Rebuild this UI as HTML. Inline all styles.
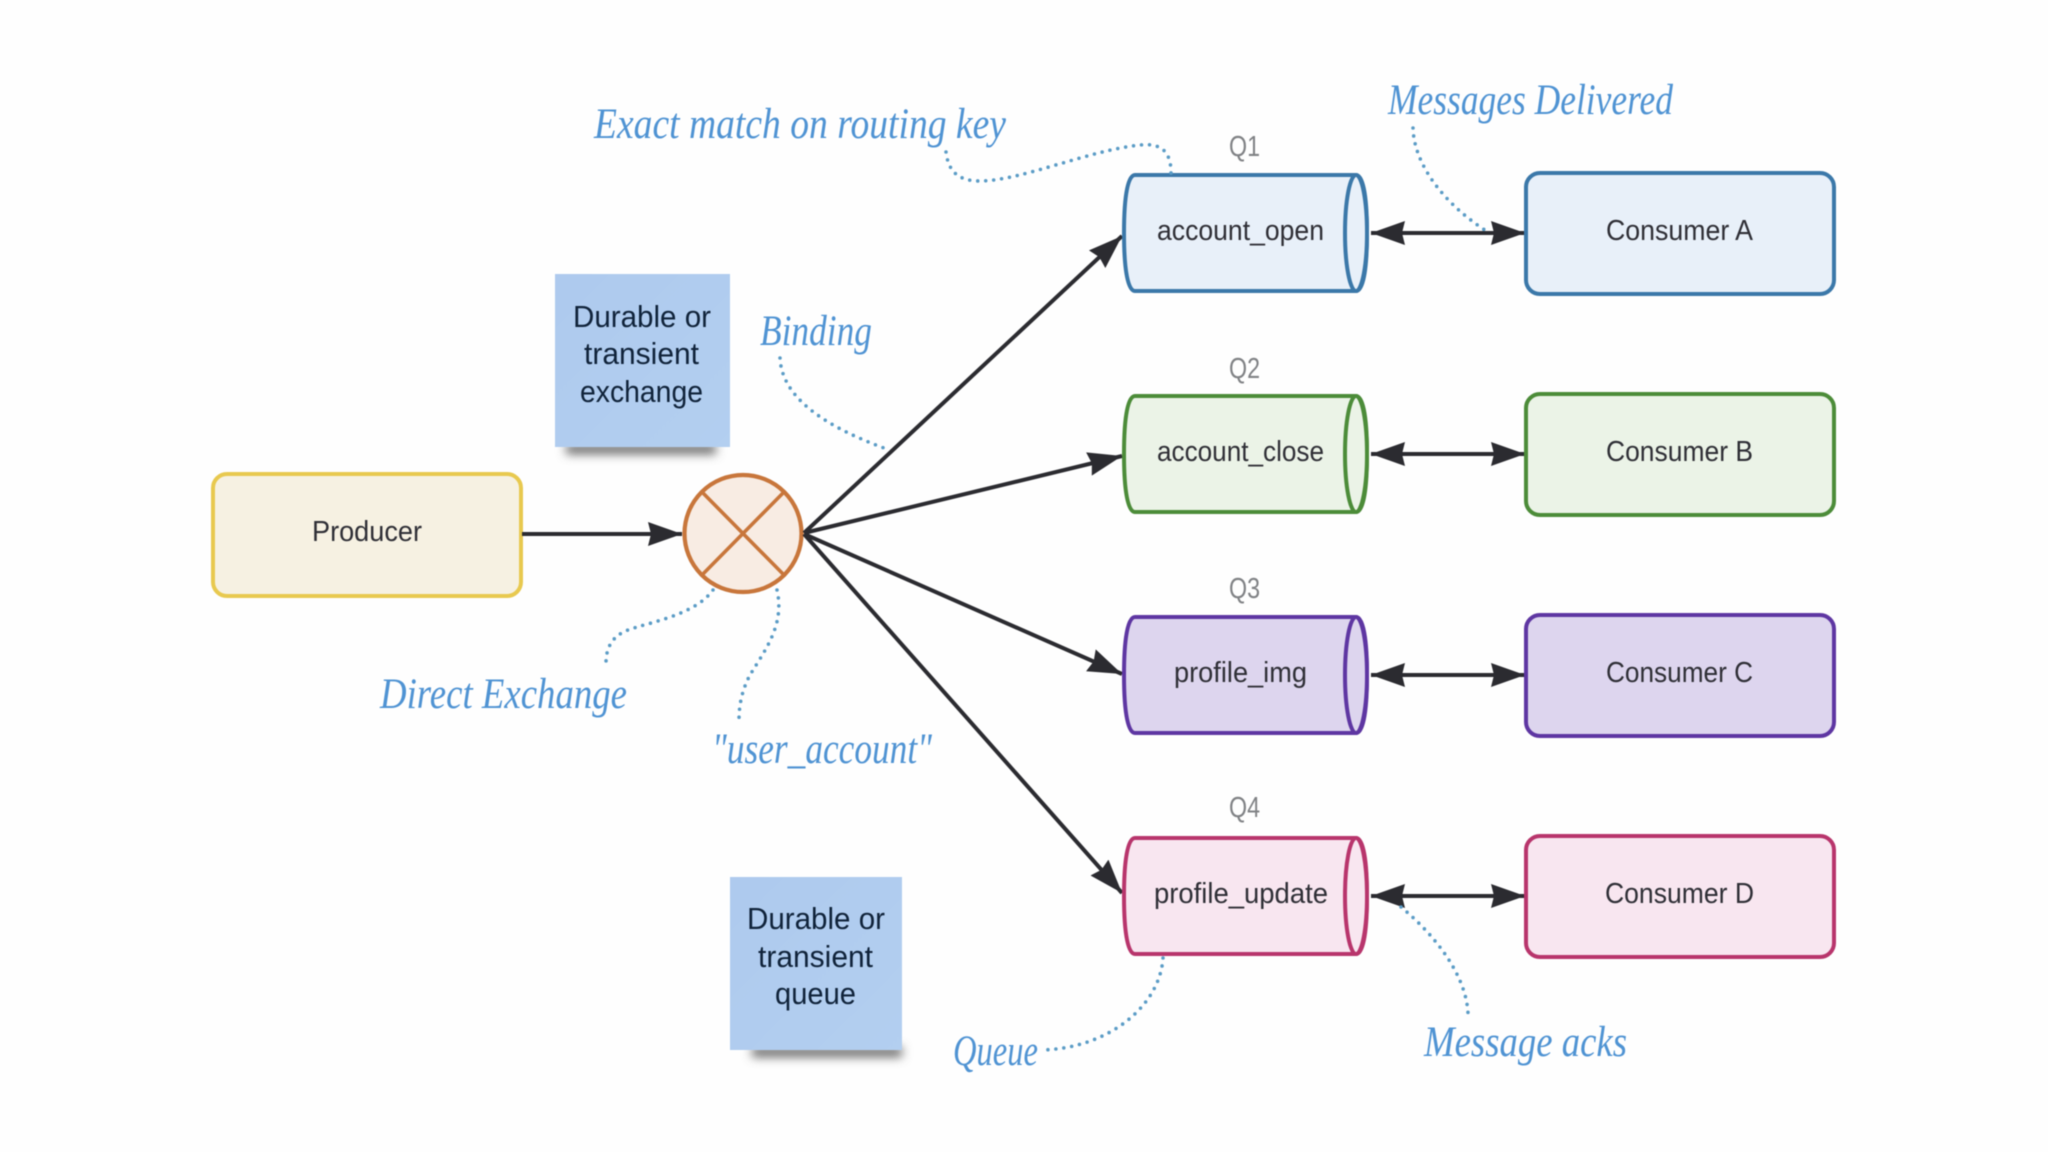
<!DOCTYPE html>
<html><head><meta charset="utf-8">
<style>
html,body{margin:0;padding:0;background:#fff;width:2048px;height:1152px;overflow:hidden}
svg{display:block;filter:blur(0.6px)}
.t{font-family:"Liberation Sans",sans-serif;font-size:29px;fill:#2f2f36}
.s{font-family:"Liberation Sans",sans-serif;font-size:31px;fill:#10233a}
.q{font-family:"Liberation Sans",sans-serif;font-size:29px;fill:#808285}
.h{font-family:"Liberation Serif",serif;font-style:italic;font-size:43px;fill:#4f93d3}
.d{fill:none;stroke:#5b9cc6;stroke-width:3.6;stroke-linecap:round;stroke-dasharray:0 8}
.a{stroke:#2b2b30;stroke-width:4;fill:none}
</style></head><body>
<svg width="2048" height="1152" viewBox="0 0 2048 1152" xmlns="http://www.w3.org/2000/svg">
<defs>
<marker id="ah" markerUnits="userSpaceOnUse" markerWidth="38" markerHeight="30" refX="34" refY="15" orient="auto-start-reverse">
<path d="M0 3L34 15L0 27L3 15Z" fill="#2b2b30"/></marker>
<filter id="b" x="-20%" y="-300%" width="140%" height="700%"><feGaussianBlur stdDeviation="5"/></filter>
<linearGradient id="st" x1="0" y1="0" x2="1" y2="1"><stop offset="0" stop-color="#aecaee"/><stop offset="1" stop-color="#b3cff0"/></linearGradient>
</defs>
<rect width="2048" height="1152" fill="#fefefe"/>

<!-- sticky notes -->
<rect x="566" y="444" width="150" height="10" fill="#666" filter="url(#b)"/>
<rect x="555" y="274" width="175" height="173" fill="url(#st)"/>
<text class="s" x="573" y="327" textLength="138" lengthAdjust="spacingAndGlyphs">Durable or</text>
<text class="s" x="584" y="364" textLength="115" lengthAdjust="spacingAndGlyphs">transient</text>
<text class="s" x="580" y="402" textLength="123" lengthAdjust="spacingAndGlyphs">exchange</text>
<rect x="752" y="1047" width="150" height="10" fill="#666" filter="url(#b)"/>
<rect x="730" y="877" width="172" height="173" fill="url(#st)"/>
<text class="s" x="747" y="929" textLength="138" lengthAdjust="spacingAndGlyphs">Durable or</text>
<text class="s" x="758" y="967" textLength="115" lengthAdjust="spacingAndGlyphs">transient</text>
<text class="s" x="775" y="1004" textLength="81" lengthAdjust="spacingAndGlyphs">queue</text>

<!-- producer -->
<rect x="213" y="474" width="308" height="122" rx="14" fill="#f6f1e2" stroke="#e8c94f" stroke-width="4"/>
<text class="t" x="312" y="541" textLength="110" lengthAdjust="spacingAndGlyphs">Producer</text>

<!-- exchange -->
<ellipse cx="743" cy="533.5" rx="58.5" ry="58.5" fill="#f8ece3" stroke="#c8763b" stroke-width="4.2"/>
<path d="M702 492L784 575M784 492L702 575" stroke="#c8763b" stroke-width="3.6" fill="none"/>

<!-- arrows -->
<path class="a" d="M522 534L682 534" marker-end="url(#ah)"/>
<path class="a" d="M804 533L1122 236" marker-end="url(#ah)"/>
<path class="a" d="M804 533L1122 456" marker-end="url(#ah)"/>
<path class="a" d="M804 534L1122 674" marker-end="url(#ah)"/>
<path class="a" d="M804 534L1122 893" marker-end="url(#ah)"/>
<path class="a" d="M1371 233L1525 233" marker-start="url(#ah)" marker-end="url(#ah)"/>
<path class="a" d="M1371 454L1525 454" marker-start="url(#ah)" marker-end="url(#ah)"/>
<path class="a" d="M1371 675L1525 675" marker-start="url(#ah)" marker-end="url(#ah)"/>
<path class="a" d="M1371 896L1525 896" marker-start="url(#ah)" marker-end="url(#ah)"/>

<!-- queues -->
<g stroke-width="4">
<g fill="#e8f0f9" stroke="#3b78a9">
<path d="M1135 175H1356C1363 175 1367 195 1367 233S1363 291 1356 291H1135C1128 291 1124 271 1124 233S1128 175 1135 175Z"/>
<ellipse cx="1356" cy="233" rx="11" ry="58"/>
</g>
<g fill="#ebf3e7" stroke="#4c8c39">
<path d="M1135 396H1356C1363 396 1367 416 1367 454S1363 512 1356 512H1135C1128 512 1124 492 1124 454S1128 396 1135 396Z"/>
<ellipse cx="1356" cy="454" rx="11" ry="58"/>
</g>
<g fill="#ddd5ee" stroke="#5e36a2">
<path d="M1135 617H1356C1363 617 1367 637 1367 675S1363 733 1356 733H1135C1128 733 1124 713 1124 675S1128 617 1135 617Z"/>
<ellipse cx="1356" cy="675" rx="11" ry="58"/>
</g>
<g fill="#f8e6f0" stroke="#b8356c">
<path d="M1135 838H1356C1363 838 1367 858 1367 896S1363 954 1356 954H1135C1128 954 1124 934 1124 896S1128 838 1135 838Z"/>
<ellipse cx="1356" cy="896" rx="11" ry="58"/>
</g>
</g>
<text class="t" x="1157" y="240" textLength="167" lengthAdjust="spacingAndGlyphs">account_open</text>
<text class="t" x="1157" y="461" textLength="167" lengthAdjust="spacingAndGlyphs">account_close</text>
<text class="t" x="1174" y="682" textLength="133" lengthAdjust="spacingAndGlyphs">profile_img</text>
<text class="t" x="1154" y="903" textLength="174" lengthAdjust="spacingAndGlyphs">profile_update</text>
<text class="q" x="1229" y="156" textLength="31" lengthAdjust="spacingAndGlyphs">Q1</text>
<text class="q" x="1229" y="378" textLength="31" lengthAdjust="spacingAndGlyphs">Q2</text>
<text class="q" x="1229" y="598" textLength="31" lengthAdjust="spacingAndGlyphs">Q3</text>
<text class="q" x="1229" y="817" textLength="31" lengthAdjust="spacingAndGlyphs">Q4</text>

<!-- consumers -->
<g stroke-width="4">
<rect x="1526" y="173" width="308" height="121" rx="14" fill="#e8f0f9" stroke="#3b78a9"/>
<rect x="1526" y="394" width="308" height="121" rx="14" fill="#ebf3e7" stroke="#4c8c39"/>
<rect x="1526" y="615" width="308" height="121" rx="14" fill="#ddd5ee" stroke="#5e36a2"/>
<rect x="1526" y="836" width="308" height="121" rx="14" fill="#f8e6f0" stroke="#b8356c"/>
</g>
<text class="t" x="1606" y="240" textLength="147" lengthAdjust="spacingAndGlyphs">Consumer A</text>
<text class="t" x="1606" y="461" textLength="147" lengthAdjust="spacingAndGlyphs">Consumer B</text>
<text class="t" x="1606" y="682" textLength="147" lengthAdjust="spacingAndGlyphs">Consumer C</text>
<text class="t" x="1605" y="903" textLength="149" lengthAdjust="spacingAndGlyphs">Consumer D</text>

<!-- dotted leaders -->
<path class="d" d="M946 152C948 168 955 181 980 181C1020 181 1090 150 1140 145C1160 143 1171 150 1171 173"/>
<path class="d" d="M1413 128C1414 165 1445 205 1488 232"/>
<path class="d" d="M780 358C782 400 830 428 884 448"/>
<path class="d" d="M713 590C695 615 650 622 628 630C612 636 606 648 606 663"/>
<path class="d" d="M777 590C785 625 765 650 750 675C742 690 739 705 739 720"/>
<path class="d" d="M1163 958C1160 1005 1110 1048 1042 1050"/>
<path class="d" d="M1401 907C1435 935 1466 975 1468 1013"/>

<!-- handwritten -->
<text class="h" x="594" y="138" textLength="412" lengthAdjust="spacingAndGlyphs">Exact match on routing key</text>
<text class="h" x="1388" y="114" textLength="285" lengthAdjust="spacingAndGlyphs">Messages Delivered</text>
<text class="h" x="760" y="345" textLength="112" lengthAdjust="spacingAndGlyphs">Binding</text>
<text class="h" x="380" y="708" textLength="247" lengthAdjust="spacingAndGlyphs">Direct Exchange</text>
<text class="h" x="712" y="763" textLength="220" lengthAdjust="spacingAndGlyphs">"user_account"</text>
<text class="h" x="953" y="1065" textLength="85" lengthAdjust="spacingAndGlyphs">Queue</text>
<text class="h" x="1424" y="1056" textLength="203" lengthAdjust="spacingAndGlyphs">Message acks</text>
</svg>
</body></html>
